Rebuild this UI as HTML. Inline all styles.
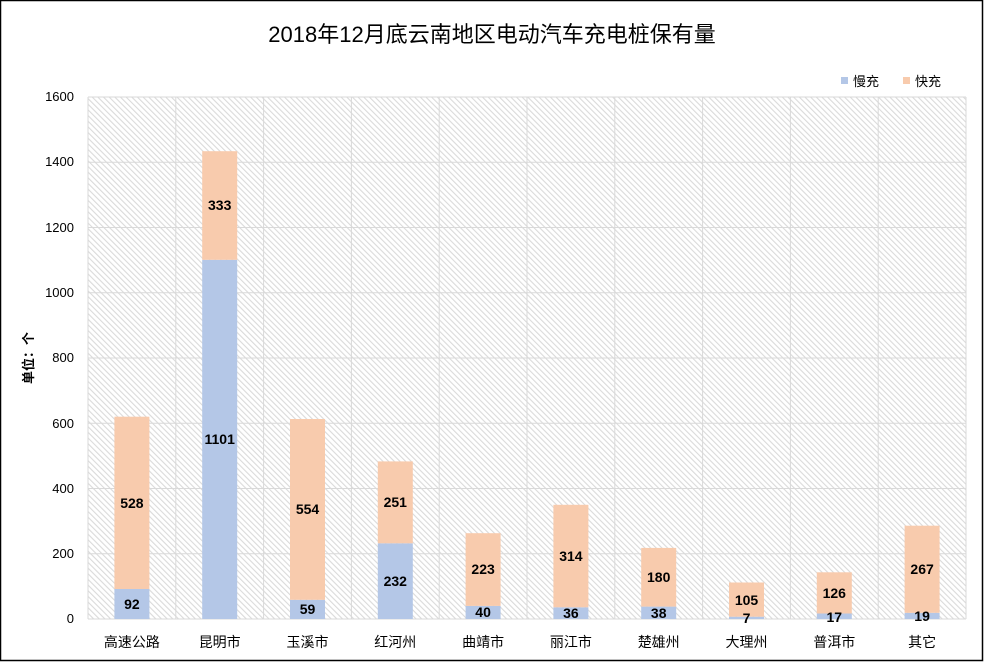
<!DOCTYPE html>
<html><head><meta charset="utf-8"><style>
body{margin:0;background:#fff}
svg{display:block}
text{font-family:"Liberation Sans","Noto Sans CJK SC",sans-serif}
</style></head><body>
<svg width="984" height="662" viewBox="0 0 984 662">
<defs>
<pattern id="h" width="4" height="4" patternUnits="userSpaceOnUse" patternTransform="rotate(-45)">
<rect width="4" height="4" fill="#fff"/><rect x="0" y="0" width="1.1" height="4" fill="#dadada"/>
</pattern>
</defs>
<rect x="0.5" y="0.5" width="982" height="660" fill="#fff" stroke="#000" stroke-width="1.5"/>
<text x="492" y="42" font-size="22" text-anchor="middle" fill="#000">2018年12月底云南地区电动汽车充电桩保有量</text>
<rect x="88" y="97" width="878" height="522" fill="url(#h)"/>
<g stroke="#d9d9d9" stroke-width="1">
<line x1="88" x2="966" y1="97" y2="97"/><line x1="88" x2="966" y1="162.3" y2="162.3"/>
<line x1="88" x2="966" y1="227.5" y2="227.5"/><line x1="88" x2="966" y1="292.8" y2="292.8"/>
<line x1="88" x2="966" y1="358" y2="358"/><line x1="88" x2="966" y1="423.3" y2="423.3"/>
<line x1="88" x2="966" y1="488.5" y2="488.5"/><line x1="88" x2="966" y1="553.8" y2="553.8"/>
<line x1="88" x2="966" y1="619" y2="619"/>
<line x1="88" x2="88" y1="97" y2="619"/><line x1="175.8" x2="175.8" y1="97" y2="619"/>
<line x1="263.6" x2="263.6" y1="97" y2="619"/><line x1="351.4" x2="351.4" y1="97" y2="619"/>
<line x1="439.2" x2="439.2" y1="97" y2="619"/><line x1="527" x2="527" y1="97" y2="619"/>
<line x1="614.8" x2="614.8" y1="97" y2="619"/><line x1="702.6" x2="702.6" y1="97" y2="619"/>
<line x1="790.4" x2="790.4" y1="97" y2="619"/><line x1="878.2" x2="878.2" y1="97" y2="619"/>
<line x1="966" x2="966" y1="97" y2="619"/>
</g>
<g font-size="13" fill="#000" text-anchor="end">
<text x="74" y="101">1600</text><text x="74" y="166">1400</text><text x="74" y="232">1200</text>
<text x="74" y="297">1000</text><text x="74" y="362">800</text><text x="74" y="428">600</text>
<text x="74" y="493">400</text><text x="74" y="558">200</text><text x="74" y="623">0</text>
</g>
<text transform="translate(33,358) rotate(-90)" font-size="13" font-weight="bold" text-anchor="middle">单位：个</text>
<g>
<rect x="114.4" y="589" width="35" height="30" fill="#b4c7e7"/><rect x="114.4" y="416.7" width="35" height="172.3" fill="#f8cbad"/>
<rect x="202.2" y="259.8" width="35" height="359.2" fill="#b4c7e7"/><rect x="202.2" y="151.2" width="35" height="108.6" fill="#f8cbad"/>
<rect x="290" y="599.8" width="35" height="19.2" fill="#b4c7e7"/><rect x="290" y="419" width="35" height="180.8" fill="#f8cbad"/>
<rect x="377.8" y="543.3" width="35" height="75.7" fill="#b4c7e7"/><rect x="377.8" y="461.4" width="35" height="81.9" fill="#f8cbad"/>
<rect x="465.6" y="605.9" width="35" height="13.1" fill="#b4c7e7"/><rect x="465.6" y="533.2" width="35" height="72.7" fill="#f8cbad"/>
<rect x="553.4" y="607.3" width="35" height="11.7" fill="#b4c7e7"/><rect x="553.4" y="504.8" width="35" height="102.5" fill="#f8cbad"/>
<rect x="641.2" y="606.6" width="35" height="12.4" fill="#b4c7e7"/><rect x="641.2" y="547.9" width="35" height="58.7" fill="#f8cbad"/>
<rect x="729" y="616.7" width="35" height="2.3" fill="#b4c7e7"/><rect x="729" y="582.5" width="35" height="34.2" fill="#f8cbad"/>
<rect x="816.8" y="613.5" width="35" height="5.5" fill="#b4c7e7"/><rect x="816.8" y="572.3" width="35" height="41.2" fill="#f8cbad"/>
<rect x="904.6" y="612.8" width="35" height="6.2" fill="#b4c7e7"/><rect x="904.6" y="525.7" width="35" height="87.1" fill="#f8cbad"/>
</g>
<g font-size="14" font-weight="bold" text-anchor="middle" fill="#000">
<text x="131.9" y="609">92</text><text x="131.9" y="508">528</text>
<text x="219.7" y="444">1101</text><text x="219.7" y="210">333</text>
<text x="307.5" y="614">59</text><text x="307.5" y="514">554</text>
<text x="395.3" y="586">232</text><text x="395.3" y="507">251</text>
<text x="483.1" y="617">40</text><text x="483.1" y="574">223</text>
<text x="570.9" y="618">36</text><text x="570.9" y="561">314</text>
<text x="658.7" y="618">38</text><text x="658.7" y="582">180</text>
<text x="746.5" y="623">7</text><text x="746.5" y="605">105</text>
<text x="834.3" y="622">17</text><text x="834.3" y="598">126</text>
<text x="922.1" y="621">19</text><text x="922.1" y="574">267</text>
</g>
<g font-size="14" text-anchor="middle" fill="#000">
<text x="131.9" y="647">高速公路</text><text x="219.7" y="647">昆明市</text><text x="307.5" y="647">玉溪市</text>
<text x="395.3" y="647">红河州</text><text x="483.1" y="647">曲靖市</text><text x="570.9" y="647">丽江市</text>
<text x="658.7" y="647">楚雄州</text><text x="746.5" y="647">大理州</text><text x="834.3" y="647">普洱市</text>
<text x="922.1" y="647">其它</text>
</g>
<rect x="841" y="77" width="7" height="7" fill="#b4c7e7"/>
<text x="853" y="86" font-size="13">慢充</text>
<rect x="903" y="77" width="7" height="7" fill="#f8cbad"/>
<text x="915" y="86" font-size="13">快充</text>
</svg>
</body></html>
